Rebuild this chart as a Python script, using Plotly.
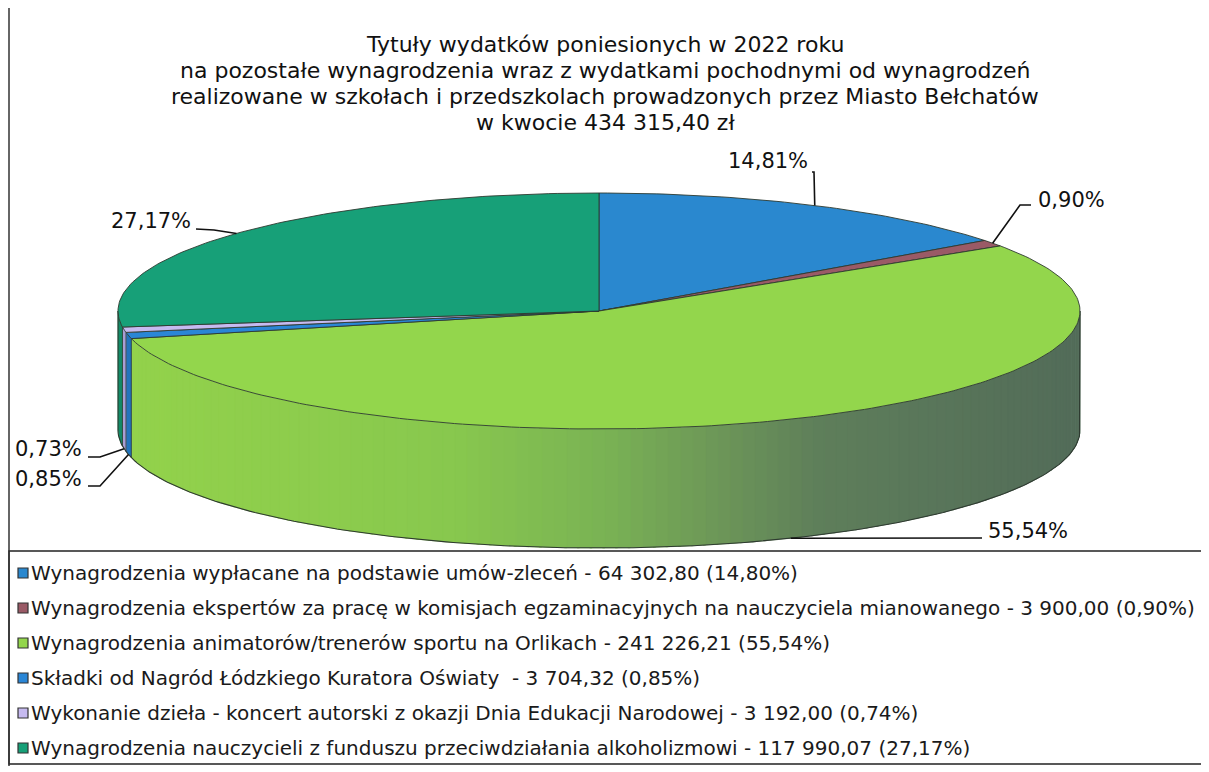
import numpy as np
import plotly.graph_objects as go

# ---------------- data ----------------
categories = [
    "Wynagrodzenia wypłacane na podstawie umów-zleceń",
    "Wynagrodzenia ekspertów za pracę w komisjach egzaminacyjnych na nauczyciela mianowanego",
    "Wynagrodzenia animatorów/trenerów sportu na Orlikach",
    "Składki od Nagród Łódzkiego Kuratora Oświaty ",
    "Wykonanie dzieła - koncert autorski z okazji Dnia Edukacji Narodowej",
    "Wynagrodzenia nauczycieli z funduszu przeciwdziałania alkoholizmowi",
]
values = [64302.80, 3900.00, 241226.21, 3704.32, 3192.00, 117990.07]
amount_labels = ["64 302,80", "3 900,00", "241 226,21", "3 704,32", "3 192,00", "117 990,07"]
legend_pcts = ["14,80%", "0,90%", "55,54%", "0,85%", "0,74%", "27,17%"]
slice_pcts = ["14,81%", "0,90%", "55,54%", "0,85%", "0,73%", "27,17%"]
title_lines = [
    "Tytuły wydatków poniesionych w 2022 roku",
    "na pozostałe wynagrodzenia wraz z wydatkami pochodnymi od wynagrodzeń",
    "realizowane w szkołach i przedszkolach prowadzonych przez Miasto Bełchatów",
    "w kwocie 434 315,40 zł",
]

# ---------------- style ----------------
top_colors = ["#2a88cf", "#9a5a66", "#93d64c", "#2a86d6", "#c6baf0", "#17a078"]
side_colors = ["#2373b0", "#7e4852", None, "#2374bd", "#a99ed4", "#128a66"]
grad_stops = [(120, (0x93, 0xd2, 0x4b)), (450, (0x88, 0xc8, 0x4e)), (600, (0x7a, 0xb3, 0x54)),
              (720, (0x6c, 0x96, 0x58)), (820, (0x5e, 0x7e, 0x5a)), (1085, (0x52, 0x6b, 0x59))]
EDGE = "#2e3a30"
W, H = 1209, 772
PAGE_OFF = 8  # default body margin of the html page
CX, CY, RX, RY, DEPTH = 599, 311, 481, 118, 119

# label placement (text position, anchor, elbow point)
label_pos = [
    dict(x=810, y=161, xa="right", elbow=(814, 172)),
    dict(x=1036, y=200, xa="left", elbow=(1020, 205)),
    dict(x=986, y=531, xa="left", elbow=(982, 538)),
    dict(x=13, y=479, xa="left", elbow=(100, 486)),
    dict(x=13, y=449, xa="left", elbow=(100, 457)),
    dict(x=193, y=221, xa="right", elbow=(214, 230)),
]
label_start = [(812, 172), (1031, 205), (982, 538), (88, 486), (88, 457), (196, 229)]


def rim(t_deg, dy=0.0):
    t = np.radians(t_deg)
    return CX + RX * np.sin(t), CY - RY * np.cos(t) + dy


def grad_color(x):
    for (x0, c0), (x1, c1) in zip(grad_stops[:-1], grad_stops[1:]):
        if x <= x1:
            f = min(max((x - x0) / (x1 - x0), 0), 1)
            return "rgb(%d,%d,%d)" % tuple(round(a + (b - a) * f) for a, b in zip(c0, c1))
    return "rgb(%d,%d,%d)" % grad_stops[-1][1]


total = float(sum(values))
fracs = [v / total for v in values]
bounds = np.concatenate([[0], np.cumsum(fracs)]) * 360.0

fig = go.Figure()


def poly(xs, ys, color, line_color=None, lw=0.0):
    fig.add_trace(go.Scatter(
        x=list(xs) + [xs[0]], y=list(ys) + [ys[0]], mode="lines", fill="toself",
        fillcolor=color, line=dict(color=line_color or color, width=lw),
        hoverinfo="skip", showlegend=False))


# ---- side walls (visible front half: 90..270 deg) ----
for i in range(len(values)):
    a0, a1 = max(bounds[i], 90), min(bounds[i + 1], 270)
    if a1 <= a0:
        continue
    if side_colors[i] is None:
        nstrips = max(int((a1 - a0) / 1.5), 1)
        edges = np.linspace(a0, a1, nstrips + 1)
        for s0, s1 in zip(edges[:-1], edges[1:]):
            ts = np.linspace(s0, s1 + 0.3 if s1 < a1 else s1, 4)
            xt, yt = rim(ts)
            xb, yb = rim(ts[::-1], DEPTH)
            c = grad_color(float(np.mean(xt)))
            poly(np.concatenate([xt, xb]), np.concatenate([yt, yb]), c, c, 0.6)
    else:
        ts = np.linspace(a0, a1, 12)
        xt, yt = rim(ts)
        xb, yb = rim(ts[::-1], DEPTH)
        poly(np.concatenate([xt, xb]), np.concatenate([yt, yb]), side_colors[i], side_colors[i], 0.5)

# wall outline
ts = np.linspace(90, 270, 200)
xb, yb = rim(ts, DEPTH)
xr, yr = rim(90)
xl, yl = rim(270)
fig.add_trace(go.Scatter(x=[xr] + list(xb) + [xl, xl], y=[yr] + list(yb) + [yl + DEPTH, yl],
                         mode="lines", line=dict(color=EDGE, width=1.1),
                         hoverinfo="skip", showlegend=False))
for b in bounds[1:-1]:
    if 90 < b < 270:
        x0, y0 = rim(b)
        fig.add_trace(go.Scatter(x=[x0, x0], y=[y0, y0 + DEPTH], mode="lines",
                                 line=dict(color=EDGE, width=0.8), hoverinfo="skip", showlegend=False))

# ---- top faces ----
for i in range(len(values)):
    n = max(int((bounds[i + 1] - bounds[i]) / 1.0) + 2, 3)
    ts = np.linspace(bounds[i], bounds[i + 1], n)
    xs, ys = rim(ts)
    poly(np.concatenate([[CX], xs]), np.concatenate([[CY], ys]), top_colors[i], EDGE, 0.9)

# ---- slice labels with leader lines ----
annotations = []
for i in range(len(values)):
    mid = (bounds[i] + bounds[i + 1]) / 2.0
    ax, ay = rim(mid, DEPTH if 90 < mid < 270 else 0)
    lp = label_pos[i]
    sx, sy = label_start[i]
    ex, ey = lp["elbow"]
    fig.add_trace(go.Scatter(x=[sx, ex, ax], y=[sy, ey, ay], mode="lines",
                             line=dict(color="#111111", width=1.6),
                             hoverinfo="skip", showlegend=False))
    annotations.append(dict(x=lp["x"], y=lp["y"], xref="x", yref="y", text=slice_pcts[i],
                            showarrow=False, xanchor=lp["xa"], yanchor="middle",
                            font=dict(family="DejaVu Sans", size=21, color="#111111")))

# ---- title ----
for k, line in enumerate(title_lines):
    annotations.append(dict(x=605, y=44 + 26 * k, xref="x", yref="y", text=line,
                            showarrow=False, xanchor="center", yanchor="middle",
                            font=dict(family="DejaVu Sans", size=22, color="#111111")))

# ---- legend (manual box) ----
shapes = [
    dict(type="line", xref="x", yref="y", x0=9, x1=9, y0=0, y1=766,
         line=dict(color="#333333", width=1.5)),
    dict(type="rect", xref="x", yref="y", x0=9, x1=1203, y0=551, y1=764,
         line=dict(color="#222222", width=1.5), fillcolor="white", layer="below"),
]
row_y0, row_dy = 573, 35
for i in range(len(values)):
    yc = row_y0 + i * row_dy
    shapes.append(dict(type="rect", xref="x", yref="y", x0=18, x1=28, y0=yc - 5, y1=yc + 5,
                       fillcolor=top_colors[i], line=dict(color="#333333", width=1.2)))
    annotations.append(dict(x=29, y=yc, xref="x", yref="y",
                            text=f"{categories[i]} - {amount_labels[i]} ({legend_pcts[i]})",
                            showarrow=False, xanchor="left", yanchor="middle",
                            font=dict(family="DejaVu Sans", size=20, color="#1a1a1a")))

fig.update_layout(
    width=W - PAGE_OFF, height=H - PAGE_OFF, margin=dict(l=0, r=0, t=0, b=0),
    paper_bgcolor="white", plot_bgcolor="white",
    xaxis=dict(range=[PAGE_OFF, W], visible=False, fixedrange=True, domain=[0, 1]),
    yaxis=dict(range=[H, PAGE_OFF], visible=False, fixedrange=True, domain=[0, 1]),
    annotations=annotations, shapes=shapes, showlegend=False,
)

fig.write_html("out.html")
